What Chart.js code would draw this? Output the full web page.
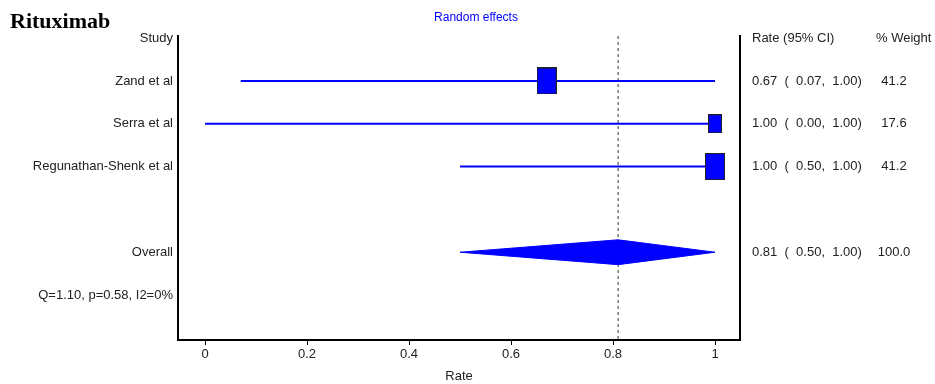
<!DOCTYPE html>
<html>
<head>
<meta charset="utf-8">
<script src="https://cdn.jsdelivr.net/npm/chart.js@4.4.1/dist/chart.umd.min.js"></script>
<style>
  body { margin: 0; background: #fff; }
</style>
</head>
<body>
<canvas id="forest" width="935" height="384"></canvas>
<script>
const studies = ['Zand et al', 'Serra et al', 'Regunathan-Shenk et al'];
const rates = [0.67, 1.00, 1.00];
const lower = [0.07, 0.00, 0.50];
const upper = [1.00, 1.00, 1.00];
const weights = [41.2, 17.6, 41.2];
const overallRate = 0.81;
const overallLower = 0.50;
const overallUpper = 1.00;
const overallWeight = 100.0;
const heterogeneity = 'Q=1.10, p=0.58, I2=0%';
const xTicks = [0, 0.2, 0.4, 0.6, 0.8, 1];

const FONT = "'Liberation Sans Narrow', 'Arial Narrow', 'Liberation Sans', sans-serif";
const BLUE = '#0000ff';
const TEXT = '#222';

// row layout: 0 header, 1..n studies, blank, overall, heterogeneity
const overallRow = studies.length + 2;
const rowLabels = ['Study'].concat(studies, [''], ['Overall'], [heterogeneity]);

function makeBox(weight) {
    const w = Math.round(10 + weight * 0.25);
    const h = Math.round(14 + weight * 0.31);
    const c = document.createElement('canvas');
    c.width = w; c.height = h;
    const g = c.getContext('2d');
    g.fillStyle = BLUE;
    g.fillRect(0, 0, w, h);
    g.strokeStyle = '#222';
    g.lineWidth = 1;
    g.strokeRect(0.5, 0.5, w - 1, h - 1);
    return c;
}

const datasets = [];

/* ================= DASHED OVERALL LINE ================= */
datasets.push({
    data: [{ x: overallRate, y: -0.05 }, { x: overallRate, y: 7.05 }],
    borderColor: '#333',
    borderWidth: 1,
    borderDash: [3, 3],
    pointRadius: 0,
    order: 3
});

/* ================= CONFIDENCE INTERVALS ================= */
studies.forEach((s, i) => {
    datasets.push({
        data: [{ x: lower[i], y: i + 1 }, { x: upper[i], y: i + 1 }],
        borderColor: BLUE,
        borderWidth: 2,
        pointRadius: 0,
        order: 2
    });
});

/* ================= STUDY BOXES ================= */
datasets.push({
    data: rates.map((r, i) => ({ x: r, y: i + 1 })),
    showLine: false,
    pointStyle: weights.map(makeBox),
    pointRadius: 10,
    order: 0
});

/* ================= OVERALL DIAMOND ================= */
const half = 0.29;
datasets.push({
    data: [
        { x: overallLower, y: overallRow },
        { x: overallRate, y: overallRow - half },
        { x: overallUpper, y: overallRow },
        { x: overallRate, y: overallRow + half },
        { x: overallLower, y: overallRow }
    ],
    borderColor: BLUE,
    backgroundColor: BLUE,
    borderWidth: 1,
    fill: 'shape',
    tension: 0,
    pointRadius: 0,
    order: 1
});

/* ================= TEXT COLUMNS ================= */
const textPlugin = {
    id: 'forestText',
    afterDraw(chart) {
        const ctx = chart.ctx;
        const y = chart.scales.y;
        ctx.save();
        ctx.font = "bold 22px 'Liberation Serif', 'DejaVu Serif', serif";
        ctx.fillStyle = '#000';
        ctx.textAlign = 'left';
        ctx.textBaseline = 'alphabetic';
        ctx.fillText('Rituximab', 10, 28);

        ctx.font = '12px ' + FONT;
        ctx.fillStyle = BLUE;
        ctx.textAlign = 'center';
        ctx.textBaseline = 'middle';
        ctx.fillText('Random effects', 476, 18);

        ctx.font = '13px ' + FONT;
        ctx.fillStyle = TEXT;
        ctx.textAlign = 'left';
        ctx.fillText('Rate (95% CI)', 752, y.getPixelForValue(0));
        ctx.fillText('% Weight', 876, y.getPixelForValue(0));

        const ci = (r, lo, hi) => r.toFixed(2) + '  (  ' + lo.toFixed(2) + ',  ' + hi.toFixed(2) + ')';
        studies.forEach((s, i) => {
            const py = y.getPixelForValue(i + 1);
            ctx.textAlign = 'left';
            ctx.fillText(ci(rates[i], lower[i], upper[i]), 752, py);
            ctx.textAlign = 'center';
            ctx.fillText(weights[i].toFixed(1), 894, py);
        });
        const oy = y.getPixelForValue(overallRow);
        ctx.textAlign = 'left';
        ctx.fillText(ci(overallRate, overallLower, overallUpper), 752, oy);
        ctx.textAlign = 'center';
        ctx.fillText(overallWeight.toFixed(1), 894, oy);
        ctx.restore();
    }
};

new Chart(document.getElementById('forest'), {
    type: 'line',
    data: { datasets: datasets },
    plugins: [textPlugin],
    options: {
        responsive: false,
        animation: false,
        events: [],
        layout: { padding: { top: 36, left: 0, right: 0, bottom: 0 } },
        plugins: {
            legend: { display: false },
            tooltip: { enabled: false }
        },
        scales: {
            x: {
                type: 'linear',
                min: -0.053,
                max: 1.049,
                afterBuildTicks: s => { s.ticks = xTicks.map(v => ({ value: v })); },
                afterFit: s => { s.height = 44; },
                ticks: {
                    color: TEXT,
                    font: { family: FONT, size: 13 },
                    padding: 2,
                    maxRotation: 0,
                    callback: v => String(v)
                },
                grid: { drawOnChartArea: false, drawTicks: true, tickLength: 5, color: '#000' },
                border: { color: '#000', width: 2 },
                title: {
                    display: true,
                    text: 'Rate',
                    color: TEXT,
                    font: { family: FONT, size: 13 },
                    padding: { top: 0, bottom: 0 }
                }
            },
            y: {
                type: 'linear',
                reverse: true,
                min: -0.05,
                max: 7.05,
                afterBuildTicks: s => { s.ticks = rowLabels.map((l, i) => ({ value: i })); },
                afterFit: s => { s.width = 178; },
                ticks: {
                    color: TEXT,
                    font: { family: FONT, size: 13 },
                    padding: 5,
                    autoSkip: false,
                    callback: v => rowLabels[v]
                },
                grid: { display: false, drawTicks: false, tickLength: 0 },
                border: { color: '#000', width: 2 }
            },
            y2: {
                type: 'linear',
                position: 'right',
                min: 0,
                max: 1,
                afterFit: s => { s.width = 195; },
                ticks: { display: false },
                grid: { display: false },
                border: { color: '#000', width: 2 }
            }
        }
    }
});
</script>
</body>
</html>
